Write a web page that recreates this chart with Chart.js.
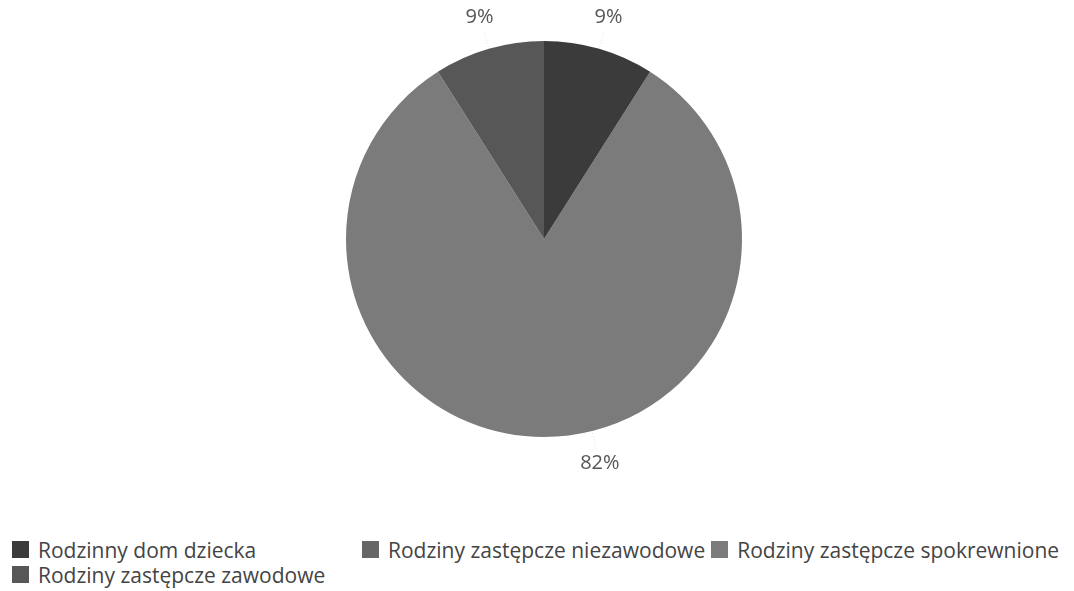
<!DOCTYPE html>
<html>
<head>
<meta charset="utf-8">
<script src="https://cdn.jsdelivr.net/npm/chart.js@4"></script>
<style>
  body { margin: 0; background: #fff; font-family: "Open Sans", sans-serif; }
  #wrap { position: relative; width: 1074px; height: 480px; }
  #legend { position: absolute; left: 12px; top: 537px; font-size: 21px; color: #444; }
  .col { display: inline-block; vertical-align: top; }
  .item { display: flex; align-items: center; height: 25px; white-space: nowrap; }
  .sw { width: 17px; height: 17px; margin-right: 9px; }
</style>
</head>
<body>
<div id="wrap"><canvas id="c"></canvas></div>
<div id="legend"></div>
<script>
// categories and values (percent), in legend order
const labels = ["Rodzinny dom dziecka", "Rodziny zastępcze zawodowe", "Rodziny zastępcze niezawodowe", "Rodziny zastępcze spokrewnione"];
const values = [9, 9, 0, 82];
const colors = ["#3b3b3b", "#575757", "#666666", "#7b7b7b"];

// the original pie runs counter-clockwise from the top, so feed Chart.js the reversed order
const order = [3, 2, 1, 0];
const pieValues = order.map(i => values[i]);
const pieColors = order.map(i => colors[i]);
const pieLabels = order.map(i => labels[i]);

// label plugin: percentages outside the slices
const outsideLabels = {
  id: "outsideLabels",
  afterDraw(chart) {
    const ctx = chart.ctx;
    const arcs = chart.getDatasetMeta(0).data;
    const shift = [-14, 0, 0, 0]; // degrees, to sit the big label like the original
    ctx.save();
    ctx.font = "20px 'Open Sans'";
    ctx.fillStyle = "#555";
    ctx.textAlign = "center";
    ctx.textBaseline = "middle";
    arcs.forEach((arc, i) => {
      if (!pieValues[i]) return;
      const a = (arc.startAngle + arc.endAngle) / 2 + shift[i] * Math.PI / 180;
      const r = arc.outerRadius;
      // faint leader line
      ctx.strokeStyle = "#e2e2e2";
      ctx.setLineDash([1, 2]);
      ctx.beginPath();
      ctx.moveTo(arc.x + Math.cos(a) * (r + 2), arc.y + Math.sin(a) * (r + 2));
      ctx.lineTo(arc.x + Math.cos(a) * (r + 20), arc.y + Math.sin(a) * (r + 20));
      ctx.stroke();
      ctx.fillText(pieValues[i] + "%", arc.x + Math.cos(a) * (r + 33), arc.y + Math.sin(a) * (r + 33));
    });
    ctx.restore();
  }
};

const total = values.reduce((s, v) => s + v, 0);

new Chart(document.getElementById("c"), {
  type: "pie",
  data: {
    labels: pieLabels,
    datasets: [{ data: pieValues, backgroundColor: pieColors, borderWidth: 0 }]
  },
  options: {
    responsive: true,
    maintainAspectRatio: false,
    animation: false,
    rotation: 360 * values[0] / total,
    layout: { padding: { top: 41, bottom: 43, left: 14 } },
    plugins: { legend: { display: false }, tooltip: { enabled: false } }
  },
  plugins: [outsideLabels]
});

// html legend: first two items stacked, the rest in a row
const legend = document.getElementById("legend");
function item(i) {
  return '<div class="item"><span class="sw" style="background:' + colors[i] + '"></span>' + labels[i] + '</div>';
}
legend.innerHTML =
  '<div class="col" style="width:350px">' + item(0) + item(1) + '</div>' +
  '<div class="col">' + item(2) + '</div>' +
  '<div class="col" style="margin-left:6px">' + item(3) + '</div>';
</script>
</body>
</html>
